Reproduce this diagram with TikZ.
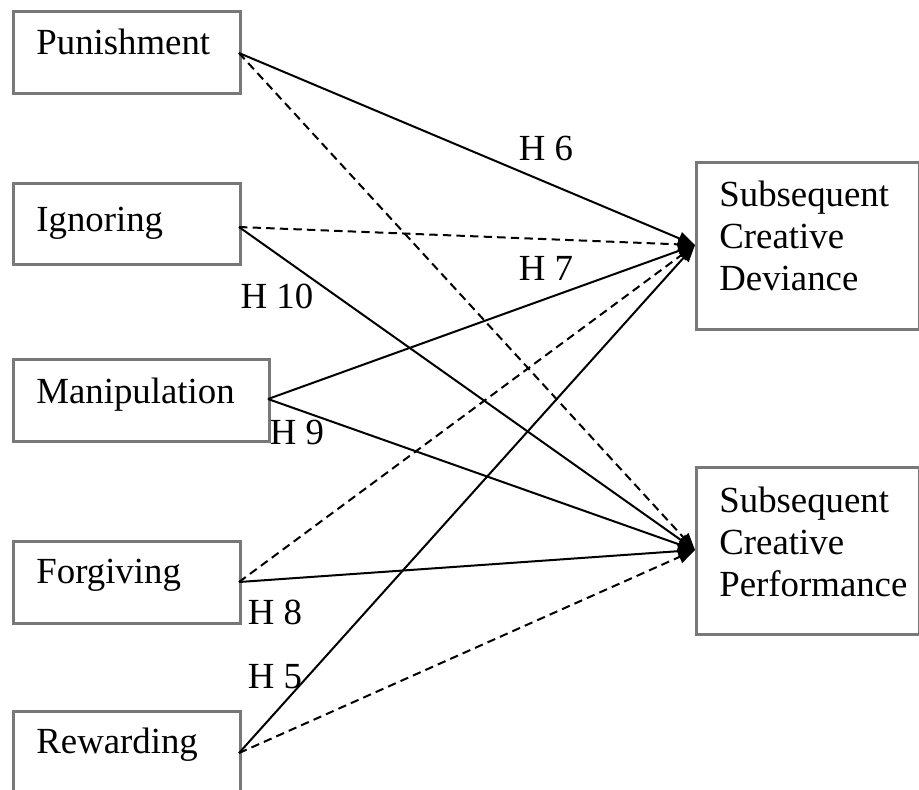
\documentclass[tikz,border=0pt]{standalone}
\usepackage{fontspec}
\setmainfont{Liberation Serif}
\usetikzlibrary{arrows.meta}
\definecolor{boxgray}{RGB}{120,120,120}
\begin{document}
\begin{tikzpicture}[x=0.5pt,y=-0.5pt,
  box/.style={draw=boxgray,line width=1.4pt,rectangle,inner sep=0pt,anchor=north west,fill=white},
  lbl/.style={font=\fontsize{18.4}{21}\selectfont,inner sep=0pt,anchor=base west},
  hyp/.style={font=\fontsize{18.4}{21}\selectfont,inner sep=0pt,anchor=center},
  conn/.style={line width=1pt,-{Triangle[length=8.5pt,width=6.5pt]},shorten >=0pt},
  dash conn/.style={conn,dash pattern=on 4.2pt off 2.6pt}]
\useasboundingbox (0,0) rectangle (919,789);
% left boxes
\node[box,minimum width=113.5pt,minimum height=41pt] (pun) at (12,10) {};
\node[box,minimum width=113.5pt,minimum height=40.5pt] (ign) at (12,182) {};
\node[box,minimum width=128pt,minimum height=41pt] (man) at (12,358) {};
\node[box,minimum width=113.5pt,minimum height=41pt] (for) at (12,540) {};
\node[box,minimum width=113.5pt,minimum height=45pt] (rew) at (12,710) {};
\node[lbl] (punt) at (36,54) {Punishment};
\node[lbl] (ignt) at (36,231) {Ignoring};
\node[lbl] (mant) at (36,403) {Manipulation};
\node[lbl] (fort) at (36,583) {Forgiving};
\node[lbl] (rewt) at (36,753) {Rewarding};
% right boxes
\node[box,minimum width=111.5pt,minimum height=83.5pt] (dev) at (695,161) {};
\node[box,minimum width=111.5pt,minimum height=83.5pt] (per) at (695,466) {};
\node[lbl] (devt1) at (719,206) {Subsequent};
\node[lbl] (devt2) at (719,248) {Creative};
\node[lbl] (devt3) at (719,290) {Deviance};
\node[lbl] (pert1) at (719,512) {Subsequent};
\node[lbl] (pert2) at (719,554) {Creative};
\node[lbl] (pert3) at (719,596) {Performance};
% connector end points
\coordinate (pA) at (239,53);
\coordinate (iA) at (239,227);
\coordinate (mA) at (268,399);
\coordinate (fA) at (239,582);
\coordinate (rA) at (239,753);
\coordinate (dT) at (695,245);
\coordinate (pT) at (695,550);
% connectors
\draw[conn] (pA) -- (dT);
\draw[dash conn] (pA) -- (pT);
\draw[dash conn] (iA) -- (dT);
\draw[conn] (iA) -- (pT);
\draw[conn] (mA) -- (dT);
\draw[conn] (mA) -- (pT);
\draw[dash conn] (fA) -- (dT);
\draw[conn] (fA) -- (pT);
\draw[conn] (rA) -- (dT);
\draw[dash conn] (rA) -- (pT);
% labels
\node[hyp] (h6) at (546,148) {H 6};
\node[hyp] (h7) at (546,268) {H 7};
\node[hyp] (h10) at (277,296) {H 10};
\node[hyp] (h9) at (297,432) {H 9};
\node[hyp] (h8) at (275,612) {H 8};
\node[hyp] (h5) at (275,677) {H 5};
\end{tikzpicture}
\end{document}
